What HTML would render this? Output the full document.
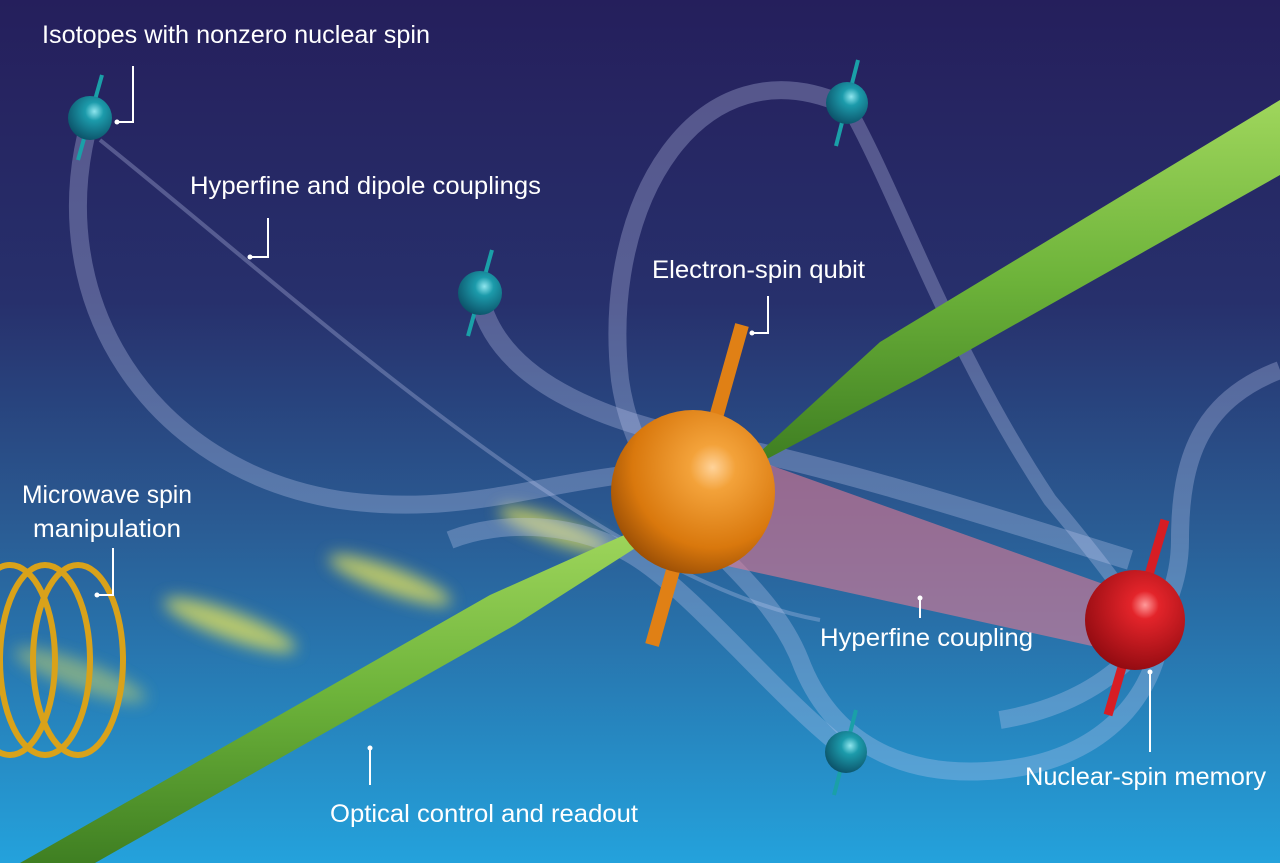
<!DOCTYPE html>
<html><head><meta charset="utf-8"><style>
html,body{margin:0;padding:0;width:1280px;height:863px;overflow:hidden;background:#252460}
svg{display:block}
text{font-family:"Liberation Sans",sans-serif;font-size:25px;fill:#fff}
</style></head><body>
<svg width="1280" height="863" viewBox="0 0 1280 863" xmlns="http://www.w3.org/2000/svg">
<defs>
<linearGradient id="bg" x1="0" y1="0" x2="0" y2="1">
<stop offset="0" stop-color="#251f5c"/><stop offset="0.35" stop-color="#27306c"/>
<stop offset="0.6" stop-color="#2a5a92"/><stop offset="1" stop-color="#24a2dc"/></linearGradient>
<radialGradient id="orb" cx="0.62" cy="0.35" r="0.7"><stop offset="0" stop-color="#ffd39a"/><stop offset="0.2" stop-color="#f3a23a"/><stop offset="0.7" stop-color="#d9780d"/><stop offset="1" stop-color="#9a4e05"/></radialGradient>
<radialGradient id="red" cx="0.6" cy="0.35" r="0.7"><stop offset="0" stop-color="#ff9a9a"/><stop offset="0.2" stop-color="#e3242a"/><stop offset="1" stop-color="#8f0a10"/></radialGradient>
<radialGradient id="teal" cx="0.6" cy="0.35" r="0.7"><stop offset="0" stop-color="#8fe6ee"/><stop offset="0.3" stop-color="#1c9bab"/><stop offset="1" stop-color="#0b4f66"/></radialGradient>
<linearGradient id="grn" x1="0" y1="0" x2="0" y2="1"><stop offset="0" stop-color="#9fd65c"/><stop offset="0.5" stop-color="#6db33a"/><stop offset="1" stop-color="#3f7f22"/></linearGradient>
<filter id="blur"><feGaussianBlur stdDeviation="8"/></filter>
</defs>
<rect width="1280" height="863" fill="url(#bg)"/>
<g filter="url(#blur)" fill="#e8e65a" opacity="0.75">
<ellipse cx="555" cy="530" rx="60" ry="12" transform="rotate(20 555 530)"/>
<ellipse cx="390" cy="580" rx="65" ry="13" transform="rotate(20 390 580)"/>
<ellipse cx="230" cy="625" rx="70" ry="14" transform="rotate(20 230 625)"/>
<ellipse cx="80" cy="675" rx="70" ry="14" transform="rotate(20 80 675)" opacity="0.6"/>
</g>
<g fill="none" stroke="#c8cdf2" stroke-opacity="0.3">
<path d="M90 120 C 40 300, 150 470, 340 500 C 480 520, 560 470, 700 470" stroke-width="18"/>
<path d="M100 140 C 300 300, 600 580, 820 620" stroke-width="4"/>
<path d="M480 300 C 500 380, 600 420, 700 440 C 850 470, 1000 520, 1130 560" stroke-width="20"/>
<path d="M845 105 C 700 40, 600 200, 620 380 C 640 520, 760 560, 800 660 C 830 740, 900 780, 1000 770 C 1100 760, 1150 700, 1160 640" stroke-width="18"/>
<path d="M850 110 C 900 200, 950 350, 1050 500 C 1100 560, 1130 600, 1140 620" stroke-width="14"/>
<path d="M846 750 C 780 700, 700 600, 640 560 C 580 520, 500 520, 450 540" stroke-width="18"/>
<path d="M1280 370 C 1200 400, 1180 460, 1180 540 C 1180 620, 1120 700, 1000 720" stroke-width="18"/>
</g>
<path d="M700 440 L1120 590 L1110 650 L700 560 Z" fill="#e07a95" opacity="0.6"/>
<path d="M640 528 L490 595 L20 863 L95 863 L515 625 L648 540 Z" fill="url(#grn)"/>
<path d="M760 452 L880 342 L1280 100 L1280 175 L920 378 L765 460 Z" fill="url(#grn)"/>
<g fill="none" stroke="#d9a21a" stroke-width="6">
<ellipse cx="10" cy="660" rx="45" ry="95"/><ellipse cx="45" cy="660" rx="45" ry="95"/><ellipse cx="78" cy="660" rx="45" ry="95"/>
</g>
<line x1="742" y1="325" x2="652" y2="645" stroke="#e08015" stroke-width="14"/>
<circle cx="693" cy="492" r="82" fill="url(#orb)"/>
<line x1="1165" y1="520" x2="1108" y2="715" stroke="#d61d24" stroke-width="9"/>
<circle cx="1135" cy="620" r="50" fill="url(#red)"/>
<g stroke="#1aa0a8" stroke-width="4">
<line x1="102" y1="75" x2="78" y2="160"/><line x1="858" y1="60" x2="836" y2="146"/>
<line x1="492" y1="250" x2="468" y2="336"/><line x1="856" y1="710" x2="834" y2="795"/>
</g>
<circle cx="90" cy="118" r="22" fill="url(#teal)"/>
<circle cx="847" cy="103" r="21" fill="url(#teal)"/>
<circle cx="480" cy="293" r="22" fill="url(#teal)"/>
<circle cx="846" cy="752" r="21" fill="url(#teal)"/>
<g stroke="#fff" stroke-width="2" fill="none">
<path d="M117 122 H133 V66"/>
<path d="M250 257 H268 V218"/>
<path d="M752 333 H768 V296"/>
<path d="M97 595 H113 V548"/>
<path d="M920 598 V618"/>
<path d="M370 748 V785"/>
<path d="M1150 672 V752"/>
</g>
<g fill="#fff"><circle cx="117" cy="122" r="2.5"/><circle cx="250" cy="257" r="2.5"/><circle cx="752" cy="333" r="2.5"/><circle cx="97" cy="595" r="2.5"/><circle cx="920" cy="598" r="2.5"/><circle cx="370" cy="748" r="2.5"/><circle cx="1150" cy="672" r="2.5"/></g>
<text x="42" y="43" textLength="388" lengthAdjust="spacingAndGlyphs">Isotopes with nonzero nuclear spin</text>
<text x="190" y="194" textLength="351" lengthAdjust="spacingAndGlyphs">Hyperfine and dipole couplings</text>
<text x="652" y="278" textLength="213" lengthAdjust="spacingAndGlyphs">Electron-spin qubit</text>
<text x="22" y="503" textLength="170" lengthAdjust="spacingAndGlyphs">Microwave spin</text>
<text x="33" y="537" textLength="148" lengthAdjust="spacingAndGlyphs">manipulation</text>
<text x="820" y="646" textLength="213" lengthAdjust="spacingAndGlyphs">Hyperfine coupling</text>
<text x="330" y="822" textLength="308" lengthAdjust="spacingAndGlyphs">Optical control and readout</text>
<text x="1025" y="785" textLength="241" lengthAdjust="spacingAndGlyphs">Nuclear-spin memory</text>
</svg>
</body></html>
